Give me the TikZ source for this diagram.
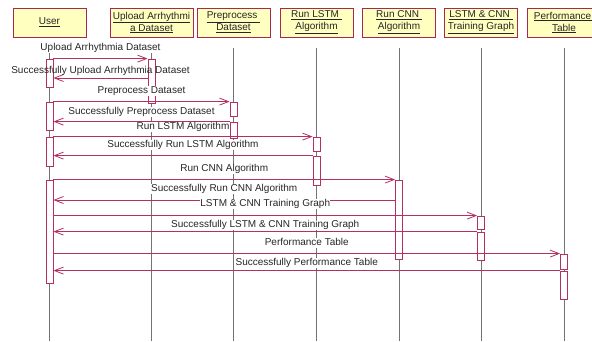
\documentclass[tikz,border=0pt]{standalone}
\usepackage{fontspec}
\setmainfont{Liberation Sans}
\usepackage{xcolor}
\usepackage{tikz}
\usetikzlibrary{arrows.meta}

\definecolor{umlred}{RGB}{168,40,82}
\definecolor{msgred}{RGB}{180,48,98}
\definecolor{umlfill}{RGB}{255,255,192}

\tikzstyle{head} = [draw=umlred,line width=1pt,fill=umlfill,minimum width=73pt,minimum height=29pt,align=center,inner sep=1pt,text=black!85]
\tikzstyle{life} = [black!55,line width=0.8pt]
\tikzstyle{act} = [draw=msgred,line width=0.8pt,fill=white,minimum width=7pt,inner sep=0pt]
\tikzstyle{msg} = [msgred,line width=0.8pt,->,>={Straight Barb[length=9pt,width=7pt]}]
\tikzstyle{lbl} = [fill=white,inner sep=0.3pt,text=black!85,text height=7.5pt,text depth=2pt]

\begin{document}
\begin{tikzpicture}[x=1pt,y=-1pt,font=\fontsize{10}{12}\selectfont]
			\clip (0,0) rectangle (592,341);
			
			% Objects:
			\node [head] (user) at (49.5,22.5) {\underline{User}};
			\node [head,minimum width=83pt] (upload) at (151.5,22.5) {\underline{Upload Arrhythmi}\\\underline{a Dataset}};
			\node [head] (prep) at (233.5,22.5) {\underline{Preprocess\ }\\\underline{Dataset}};
			\node [head] (lstm) at (316.5,22.5) {\underline{Run LSTM\ }\\\underline{Algorithm}};
			\node [head] (cnn) at (399,22.5) {\underline{Run CNN\ }\\\underline{Algorithm}};
			\node [head] (graph) at (481,22.5) {\underline{LSTM \& CNN\ }\\\underline{Training Graph}};
			\node [head] (perf) at (564,22.5) {\underline{Performance\ }\\\underline{Table}};
			
			% Lifelines:
			\foreach \n in {user,upload,prep,lstm,cnn,graph,perf}{%
				\draw [life] (\n |- 0,48) -- (\n |- 0,341);
			}
			
			% Activation bars:
			\node [act,minimum height=28pt] (uA1) at (user |- 0,73) {};
			\node [act,minimum height=28pt] (uA2) at (user |- 0,116) {};
			\node [act,minimum height=29pt] (uA3) at (user |- 0,151.5) {};
			\node [act,minimum height=103pt] (uA4) at (user |- 0,231.5) {};
			\node [act,minimum height=44pt] (upA) at (upload |- 0,81) {};
			\node [act,minimum height=14pt] (pA1) at (prep |- 0,109) {};
			\node [act,minimum height=16pt] (pA2) at (prep |- 0,130) {};
			\node [act,minimum height=14pt] (lA1) at (lstm |- 0,144) {};
			\node [act,minimum height=29pt] (lA2) at (lstm |- 0,170.5) {};
			\node [act,minimum height=79pt] (cA) at (cnn |- 0,219.5) {};
			\node [act,minimum height=13pt] (gA1) at (graph |- 0,222.5) {};
			\node [act,minimum height=28pt] (gA2) at (graph |- 0,246) {};
			\node [act,minimum height=15pt] (fA1) at (perf |- 0,261.5) {};
			\node [act,minimum height=28pt] (fA2) at (perf |- 0,285) {};
			
			% Messages:
			\draw [msg] (uA1.north east) -- (upA.north west)
				node [lbl,midway,yshift=11pt] {Upload Arrhythmia Dataset};
			\draw [msg] (upA.west |- 0,78) -- (uA1.east |- 0,78)
				node [lbl,fill=none,midway,yshift=7pt] {Successfully Upload Arrhythmia Dataset};
			\draw [msg] (uA2.north east) -- (pA1.north west)
				node [lbl,midway,yshift=11pt] {Preprocess Dataset};
			\draw [msg] (pA2.north west) -- (uA2.east |- pA2.north)
				node [lbl,midway,yshift=10pt] {Successfully Preprocess Dataset};
			\draw [msg] (uA3.north east) -- (lA1.north west)
				node [lbl,midway,yshift=10pt] {Run LSTM Algorithm};
			\draw [msg] (lA2.north west) -- (uA3.east |- lA2.north)
				node [lbl,midway,yshift=11pt] {Successfully Run LSTM Algorithm};
			\draw [msg] (uA4.east |- cA.north) -- (cA.north west)
				node [lbl,midway,yshift=11pt] {Run CNN Algorithm};
			\draw [msg] (cA.west |- 0,200) -- (uA4.east |- 0,200)
				node [lbl,midway,yshift=11pt] {Successfully Run CNN Algorithm};
			\draw [msg] (uA4.east |- gA1.north) -- (gA1.north west)
				node [lbl,midway,yshift=12pt] {LSTM \& CNN Training Graph};
			\draw [msg] (gA2.north west) -- (uA4.east |- gA2.north)
				node [lbl,midway,yshift=7pt] {Successfully LSTM \& CNN Training Graph};
			\draw [msg] (uA4.east |- fA1.north) -- (fA1.north west)
				node [lbl,midway,yshift=11pt] {Performance Table};
			\draw [msg] (fA2.north west) -- (uA4.east |- fA2.north)
				node [lbl,midway,yshift=8pt] {Successfully Performance Table};
			\end{tikzpicture}
\end{document}
